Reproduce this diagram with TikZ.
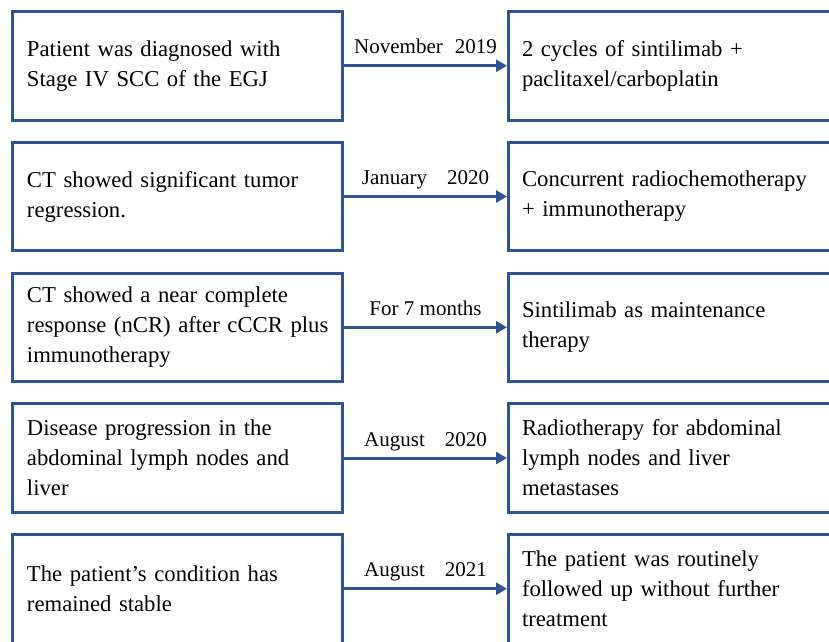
\documentclass[tikz,border=0pt]{standalone}
\usepackage{fontspec}
\setmainfont{Liberation Serif}
\usetikzlibrary{positioning,arrows.meta}
\definecolor{framebl}{RGB}{47,84,150}

\begin{document}
\begin{tikzpicture}[
  x=1pt, y=-1pt,
  event/.style={rectangle,draw=framebl,line width=3pt,minimum width=330pt,minimum height=108.5pt,
    text width=301pt,inner xsep=14.5pt,align=left,font=\fontsize{22.7}{30}\selectfont},
  treat/.style={event,minimum width=340pt,text width=313pt,inner xsep=13.5pt},
  link/.style={draw=framebl,line width=3pt,-{Triangle[length=11pt,width=12pt]}},
  when/.style={anchor=base,yshift=12pt,font=\fontsize{21}{25}\selectfont}
]
\useasboundingbox (0,0) rectangle (829,641);
\clip (0,0) rectangle (829,641);

\node[event] (ev1) at (177.5,65.75) {Patient was diagnosed with\\Stage IV SCC of the EGJ};
\node[treat,right=163pt of ev1] (tr1) {2 cycles of sintilimab +\\paclitaxel/carboplatin};

\node[event,below=19.25pt of ev1] (ev2) {CT showed significant tumor\\regression.};
\node[treat,right=163pt of ev2] (tr2) {Concurrent radiochemotherapy\\+ immunotherapy};

\node[event,below=19.25pt of ev2] (ev3) {CT showed a near complete\\\mbox{response (nCR) after cCCR plus}\\immunotherapy};
\node[treat,right=163pt of ev3] (tr3) {Sintilimab as maintenance\\therapy};

\node[event,below=19.25pt of ev3] (ev4) {Disease progression in the\\abdominal lymph nodes and\\liver};
\node[treat,right=163pt of ev4] (tr4) {Radiotherapy for abdominal\\lymph nodes and liver\\metastases};

\node[event,below=19.25pt of ev4] (ev5) {The patient’s condition has\\remained stable};
\node[treat,right=163pt of ev5] (tr5) {The patient was routinely\\followed up without further\\treatment};

% time labels above the arrows
\draw[link] (ev1.east) -- node[when] {November\hspace{12pt}2019} (tr1.west);
\draw[link] (ev2.east) -- node[when] {January\hspace{20pt}2020} (tr2.west);
\draw[link] (ev3.east) -- node[when] {For 7 months} (tr3.west);
\draw[link] (ev4.east) -- node[when] {August\hspace{20pt}2020} (tr4.west);
\draw[link] (ev5.east) -- node[when] {August\hspace{20pt}2021} (tr5.west);

\end{tikzpicture}
\end{document}
